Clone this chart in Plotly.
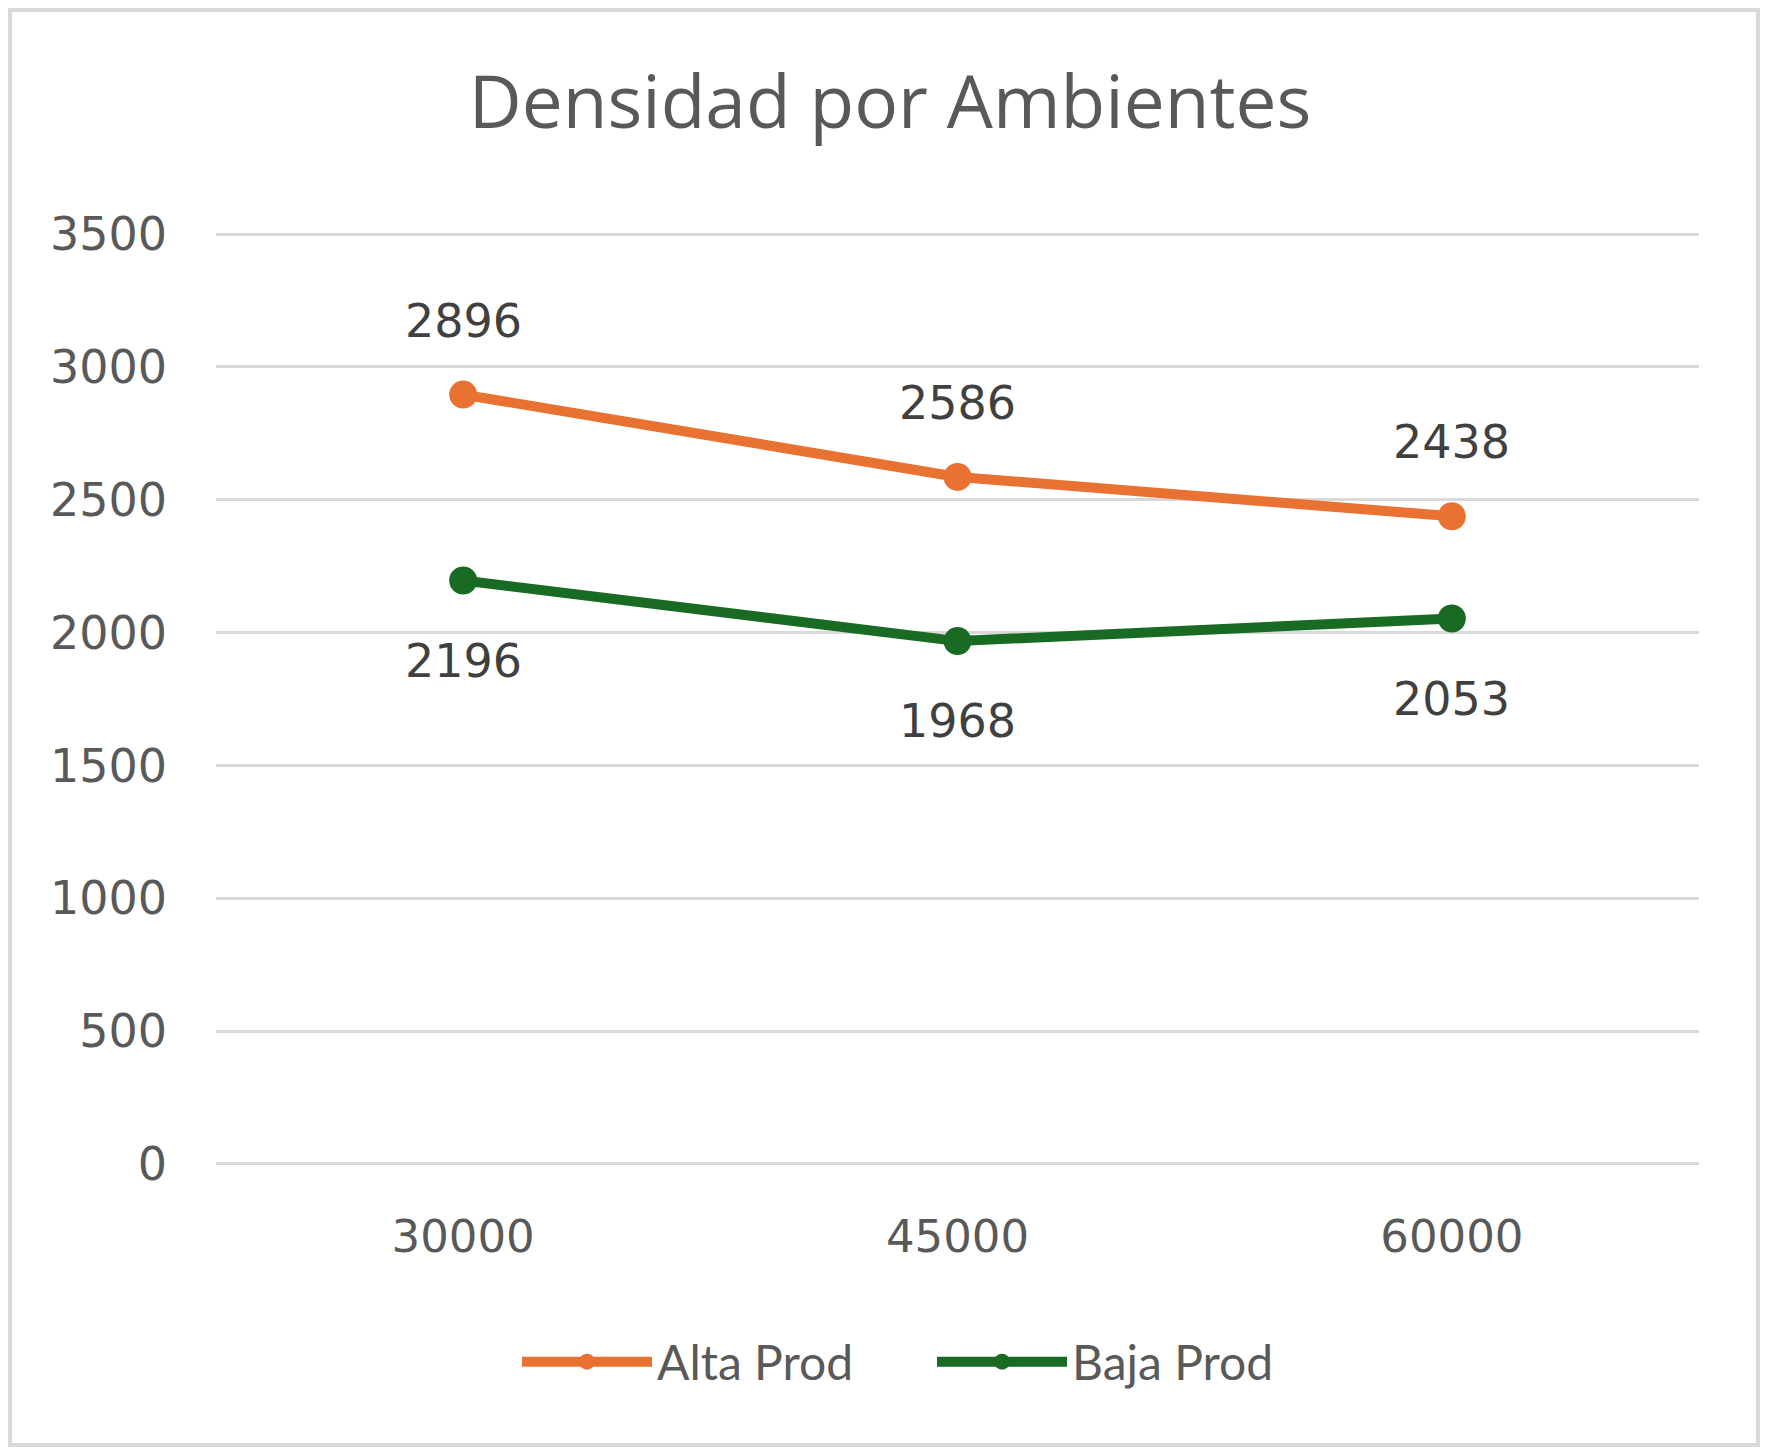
import plotly.graph_objects as go

categories = ["30000", "45000", "60000"]
alta_prod = [2896, 2586, 2438]
baja_prod = [2196, 1968, 2053]
y_ticks = [0, 500, 1000, 1500, 2000, 2500, 3000, 3500]

ORANGE = "#E97132"
GREEN = "#196B24"
TXT = "#595959"
LBL = "#404040"

OFF = 8  # browser body margin
W, H = 1768 - 2 * OFF, 1455 - 2 * OFF
L, T = 216 - OFF, 232 - OFF
R = W - (1699 - OFF)
B = H - (1166 - OFF)
pw, ph = W - L - R, H - T - B


def px_x(p):
    return (p - OFF - L) / pw


def px_y(p):
    return (H - B - (p - OFF)) / ph


fig = go.Figure()
fig.add_trace(go.Scatter(x=categories, y=alta_prod, name="Alta Prod", mode="lines+markers",
                         line=dict(color=ORANGE, width=10), marker=dict(size=28, color=ORANGE)))
fig.add_trace(go.Scatter(x=categories, y=baja_prod, name="Baja Prod", mode="lines+markers",
                         line=dict(color=GREEN, width=10), marker=dict(size=28, color=GREEN)))

for i, v in enumerate(alta_prod):
    fig.add_annotation(x=i, y=v, text=str(v), showarrow=False, yshift=74,
                       font=dict(family="DejaVu Sans", size=46, color=LBL))
for i, v in enumerate(baja_prod):
    fig.add_annotation(x=i, y=v, text=str(v), showarrow=False, yshift=-80,
                       font=dict(family="DejaVu Sans", size=46, color=LBL))

fig.add_shape(type="rect", xref="paper", yref="paper",
              x0=px_x(OFF + 2), x1=px_x(OFF + W - 2), y0=px_y(OFF + H - 2), y1=px_y(OFF + 2),
              line=dict(color="#D9D9D9", width=4), layer="below")

fig.update_layout(
    width=W, height=H,
    margin=dict(l=L, r=R, t=T, b=B),
    paper_bgcolor="white", plot_bgcolor="white",
    title=dict(text="Densidad por Ambientes", xref="container", x=(890 - OFF) / W, xanchor="center",
               yref="container", y=1 - (102 - OFF) / H, yanchor="middle",
               font=dict(family="Open Sans", size=73, color=TXT)),
    xaxis=dict(type="category", range=[-0.5, 2.5], showgrid=False, zeroline=False, showline=False,
               tickfont=dict(family="DejaVu Sans", size=45, color=TXT),
               ticks="", ticklabelstandoff=40),
    yaxis=dict(range=[-8, 3508], tickvals=y_ticks, showgrid=True, gridcolor="#D9D9D9",
               gridwidth=3, zeroline=False, showline=False, ticks="",
               tickfont=dict(family="DejaVu Sans", size=46, color=TXT),
               ticklabelstandoff=48),
    legend=dict(orientation="h", x=px_x(932), xanchor="center", y=px_y(1362), yanchor="middle",
                font=dict(family="Lato", size=48, color=TXT), itemwidth=130,
                entrywidth=270, bgcolor="rgba(0,0,0,0)"),
    showlegend=True,
)

fig.write_html("out.html")
